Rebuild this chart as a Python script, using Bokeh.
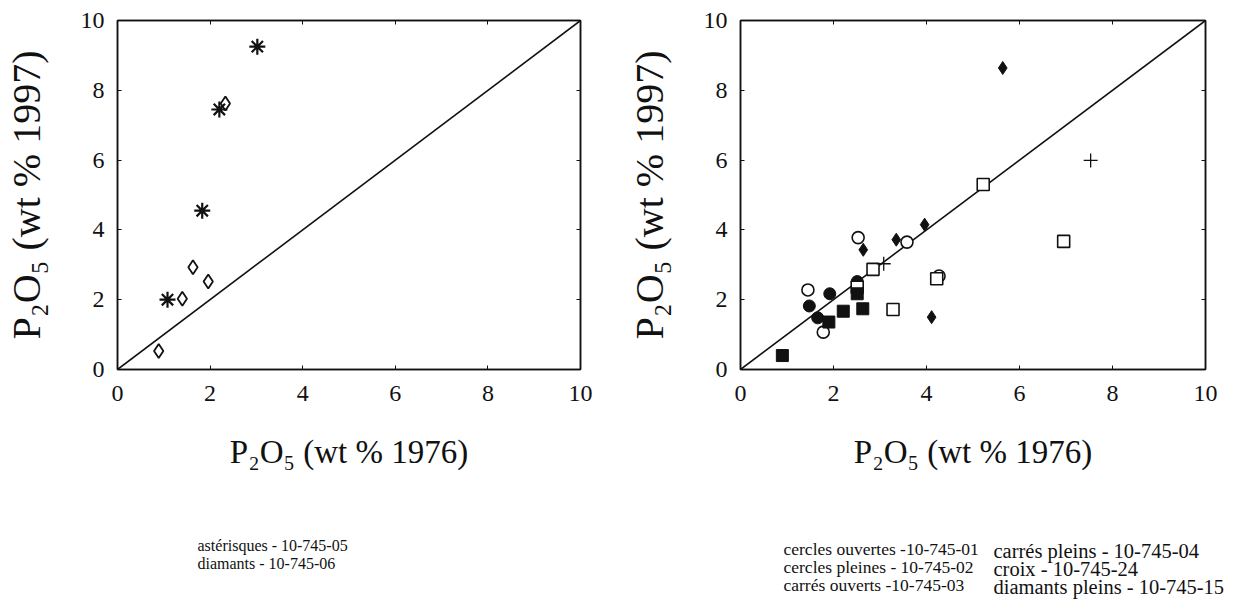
from bokeh.plotting import figure
from bokeh.models import LinearAxis, FixedTicker, Range1d
from bokeh.layouts import row, column
from bokeh.core.properties import value
from bokeh.embed import file_html
from bokeh.resources import INLINE

# ---------------- data ----------------
ticks = [0, 2, 4, 6, 8, 10]
x_title = "P\u2082O\u2085 (wt % 1976)"
y_title = "P\u2082O\u2085 (wt % 1997)"

# left panel
ast05_x = [1.08, 1.83, 2.20, 3.02]
ast05_y = [2.00, 4.55, 7.45, 9.25]
dia06_x = [0.89, 1.40, 1.63, 1.96, 2.33]
dia06_y = [0.53, 2.03, 2.93, 2.52, 7.62]

# right panel
open_circ01_x = [1.45, 1.78, 2.53, 3.58, 4.27]
open_circ01_y = [2.28, 1.07, 3.78, 3.65, 2.68]
fill_circ02_x = [1.48, 1.66, 1.92, 2.51]
fill_circ02_y = [1.82, 1.48, 2.17, 2.52]
open_sq03_x = [2.51, 2.85, 3.28, 4.22, 5.22, 6.95]
open_sq03_y = [2.36, 2.87, 1.72, 2.60, 5.30, 3.67]
fill_sq04_x = [0.90, 1.90, 2.21, 2.51, 2.63]
fill_sq04_y = [0.40, 1.36, 1.67, 2.17, 1.74]
cross24_x = [3.08, 7.53]
cross24_y = [3.03, 5.99]
fill_dia15_x = [2.64, 3.35, 3.96, 4.11, 5.64]
fill_dia15_y = [3.43, 3.72, 4.15, 1.50, 8.64]

ref_line = [0, 10]

legend_left = ["astérisques - 10-745-05", "diamants - 10-745-06"]
legend_right_col1 = ["cercles ouvertes -10-745-01", "cercles pleines - 10-745-02", "carrés ouverts -10-745-03"]
legend_right_col2 = ["carrés pleins - 10-745-04", "croix - 10-745-24", "diamants pleins - 10-745-15"]

FONT = "Liberation Serif"
INK = "#111111"


def make_fig(width, left, right):
    p = figure(width=width, height=479, x_range=Range1d(0, 10), y_range=Range1d(0, 10),
               output_backend="svg", toolbar_location=None,
               min_border_left=left, min_border_right=right,
               min_border_top=20, min_border_bottom=110,
               x_axis_label=x_title, y_axis_label=y_title)
    p.grid.visible = False
    p.outline_line_color = INK
    p.outline_line_width = 1.5
    p.background_fill_color = "white"
    p.border_fill_color = "white"
    for ax in (p.xaxis[0], p.yaxis[0]):
        ax.ticker = FixedTicker(ticks=ticks)
        ax.major_tick_in = 4
        ax.major_tick_out = 0
        ax.minor_tick_line_color = None
        ax.axis_line_color = INK
        ax.axis_line_width = 1.5
        ax.major_tick_line_color = INK
        ax.major_label_text_font = FONT
        ax.major_label_text_font_size = "24px"
        ax.major_label_text_color = INK
        ax.axis_label_text_font = FONT
        ax.axis_label_text_font_style = "normal"
        ax.axis_label_text_color = INK
    p.xaxis[0].major_label_standoff = 16
    p.yaxis[0].major_label_standoff = 13
    p.xaxis[0].axis_label_text_font_size = "33px"
    p.yaxis[0].axis_label_text_font_size = "40px"
    p.xaxis[0].axis_label_standoff = 30
    p.yaxis[0].axis_label_standoff = 29
    for loc in ("above", "right"):
        ax = LinearAxis(ticker=FixedTicker(ticks=ticks),
                        major_label_overrides={t: "" for t in ticks},
                        major_tick_in=4, major_tick_out=0, major_label_standoff=0,
                        minor_tick_line_color=None, axis_line_color=INK,
                        axis_line_width=1.5, major_tick_line_color=INK)
        p.add_layout(ax, loc)
    p.line(ref_line, ref_line, line_color=INK, line_width=1.6)
    return p


def make_legend(width, columns):
    p = figure(width=width, height=130, x_range=Range1d(0, width), y_range=Range1d(130, 0),
               output_backend="svg", toolbar_location=None, min_border=0)
    p.axis.visible = False
    p.grid.visible = False
    p.outline_line_color = None
    p.border_fill_color = "white"
    for x0, y0, dy, size, lines in columns:
        p.text(x=[x0] * len(lines), y=[y0 + dy * i for i in range(len(lines))], text=lines,
               text_font=value(FONT), text_font_size=size, text_color=INK,
               text_baseline="middle", text_align="left")
    return p


# left figure
p1 = make_fig(620, 116, 40)
p1.scatter(ast05_x, ast05_y, marker="asterisk", size=16, line_color=INK, line_width=2.2)
p1.scatter(dia06_x, dia06_y, marker="diamond", size=14, fill_color=None, line_color=INK, line_width=1.8)

# right figure
p2 = make_fig(628, 120, 43)
p2.scatter(open_circ01_x, open_circ01_y, marker="circle", size=12, fill_color="white", line_color=INK, line_width=1.6)
p2.scatter(fill_circ02_x, fill_circ02_y, marker="circle", size=12, fill_color=INK, line_color=INK)
p2.scatter(open_sq03_x, open_sq03_y, marker="square", size=12, fill_color="white", line_color=INK, line_width=1.6)
p2.scatter(fill_sq04_x, fill_sq04_y, marker="square", size=12, fill_color=INK, line_color=INK)
p2.scatter(cross24_x, cross24_y, marker="cross", size=14, line_color=INK, line_width=1.3)
p2.scatter(fill_dia15_x, fill_dia15_y, marker="diamond", size=13, fill_color=INK, line_color=INK)

l1 = make_legend(620, [(197, 66, 18, "16px", legend_left)])
l2 = make_legend(628, [(163, 69, 18, "17.5px", legend_right_col1),
                       (373, 71, 18, "20.5px", legend_right_col2)])

layout = column(row(p1, p2), row(l1, l2))
open("out.html", "w").write(file_html(layout, INLINE))
